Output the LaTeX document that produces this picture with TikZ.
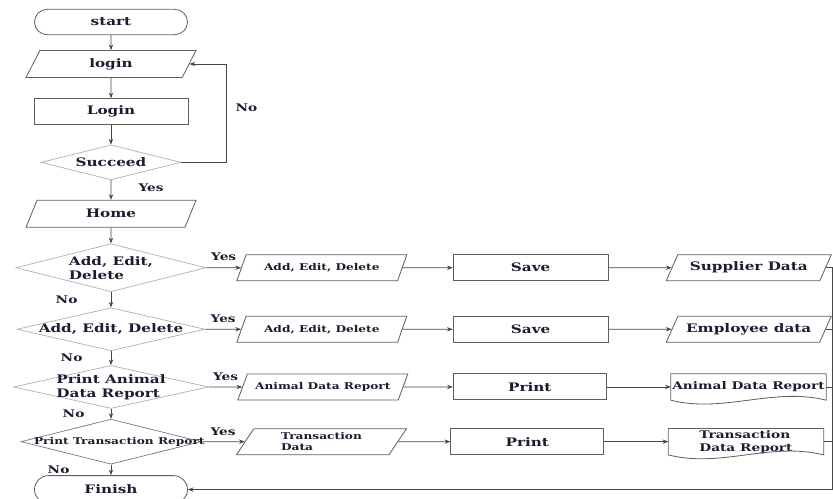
\documentclass[tikz,border=0pt]{standalone}
\usepackage{fontspec}
\setmainfont{DejaVu Serif}[FakeStretch=1.3]
\usepackage{xcolor}
\usepackage{tikz}
\usetikzlibrary{arrows.meta,positioning,shapes.geometric}

\definecolor{ink}{RGB}{28,28,48}
\definecolor{edge}{RGB}{95,95,95}
\definecolor{soft}{RGB}{175,175,175}
\definecolor{wire}{RGB}{70,70,70}

\begin{document}
\begin{tikzpicture}[>={Stealth[length=1.7mm,width=1.3mm]}, font=\bfseries,
    every node/.append style={text=ink},
    line/.style={draw=wire, line width=0.6pt},
    lab/.style={font=\bfseries\small},
    term/.style={rectangle, rounded corners=3.8mm, draw=edge, line width=0.7pt, minimum width=45.9mm, minimum height=7.6mm},
    io/.style={trapezium, trapezium left angle=45, trapezium right angle=135, trapezium stretches body, draw=edge, line width=0.7pt, minimum width=51mm, minimum height=8.1mm, inner sep=1pt},
    rowio/.style={io, trapezium left angle=50, trapezium right angle=130, minimum height=7.8mm},
    proc/.style={rectangle, draw=edge, line width=0.8pt, minimum width=46.2mm, minimum height=7.8mm},
    dec/.style={diamond, draw=soft, line width=0.6pt, inner sep=0pt},
    doc/.style={rectangle, minimum width=46.5mm, minimum height=7.8mm, inner sep=1pt, font=\bfseries\small}]
    \useasboundingbox (0,0) rectangle (249.9mm,-149.4mm);

    % main column
    \node[term] (start) at (33.3mm,-6.6mm) {start};
    \node[io] (login) [below=4.5mm of start] {login};
    \node[proc] (auth) [below=6.1mm of login] {Login};
    \node[dec, minimum width=42mm, minimum height=10.5mm, label=center:Succeed] (succ) [below=5.8mm of auth] {};
    \node[io] (home) [below=5.9mm of succ] {Home};
    \node[dec, minimum width=57mm, minimum height=14.4mm, label={[align=left]center:{Add, Edit,\\Delete}}] (d1) [below=4.7mm of home] {};
    \node[dec, minimum width=56.4mm, minimum height=12.9mm, label={center:{Add, Edit, Delete}}] (d2) [below=4.6mm of d1] {};
    \node[dec, minimum width=58.5mm, minimum height=12.9mm, label={[align=left]center:{Print Animal\\Data Report}}] (d3) [below=4.2mm of d2] {};
    \node[dec, draw=edge!85, minimum width=54mm, minimum height=13.5mm, label={[font=\bfseries\footnotesize, xshift=2.5mm]center:Print Transaction Report}] (d4) [below=3mm of d3] {};
    \node[term, minimum height=8.4mm, rounded corners=4.2mm] (fin) [below=3.2mm of d4] {Finish};

    % rows
    \node[rowio, font=\bfseries\footnotesize] (in1) [right=10.4mm of d1] {Add, Edit, Delete};
    \node[proc, minimum width=46.5mm] (save1) [right=15mm of in1] {Save};
    \node[rowio, minimum width=49.5mm] (out1) [right=18.9mm of save1] {Supplier Data};

    \node[rowio, font=\bfseries\footnotesize] (in2) [right=10.7mm of d2] {Add, Edit, Delete};
    \node[proc, minimum width=46.5mm] (save2) [right=15mm of in2] {Save};
    \node[rowio, minimum width=49.5mm] (out2) [right=18.9mm of save2] {Employee data};

    \node[rowio, font=\bfseries\footnotesize] (in3) [right=10mm of d3] {Animal Data Report};
    \node[proc, minimum width=45.9mm] (print3) [right=14.8mm of in3] {Print};
    \node[doc] (out3) [right=19.2mm of print3] {Animal Data Report};

    \node[rowio, font=\bfseries\footnotesize, align=left] (in4) [right=13mm of d4] {Transaction\\Data};
    \node[proc, minimum width=45.9mm] (print4) [right=15.6mm of in4] {Print};
    \node[doc, align=left] (out4) [right=19.2mm of print4] {Transaction\\Data Report};

    % document outlines
    \draw[line, draw=edge, line width=0.7pt] (out3.south west) -- (out3.north west) -- (out3.north east) -- (out3.south east) .. controls +(-16mm,4mm) and +(16mm,-4mm) .. (out3.south west);
    \draw[line, draw=edge, line width=0.7pt] (out4.south west) -- (out4.north west) -- (out4.north east) -- (out4.south east) .. controls +(-16mm,4mm) and +(16mm,-4mm) .. (out4.south west);

    % main flow
    \draw[line,->] (start) -- (login);
    \draw[line,->] (login) -- (auth);
    \draw[line,->] (auth) -- (succ);
    \draw[line,->] (succ) -- node[right=7mm, pos=.4, lab] {Yes} (home);
    \coordinate[right=13.5mm of succ.east] (back);
    \draw[line,->] (succ.east) -- (back) |- node[pos=.28, right=1.5mm, lab] {No} (login.east);
    \draw[line,->] (home) -- (d1);
    \draw[line,->] (d1) -- node[left=8.8mm, lab] {No} (d2);
    \draw[line,->] (d2) -- node[left=7.3mm, lab] {No} (d3);
    \draw[line,->] (d3) -- node[left=6.7mm, lab] {No} (d4);
    \draw[line,->] (d4) -- node[left=11.2mm, lab] {No} (fin);

    % yes branches
    \draw[line,->] (d1) -- node[above=0.8mm, lab] {Yes} (in1);
    \draw[line,->] (d2) -- node[above=0.6mm, lab] {Yes} (in2);
    \draw[line,->] (d3) -- node[above=0.6mm, lab] {Yes} (in3);
    \draw[line,->] (d4) -- node[above=0.6mm, lab] {Yes} (in4);
    \draw[line,->] (in1) -- (save1);
    \draw[line,->] (save1) -- (out1);
    \draw[line,->] (in2) -- (save2);
    \draw[line,->] (save2) -- (out2);
    \draw[line,->] (in3) -- (print3);
    \draw[line,->] (print3) -- (out3);
    \draw[line,->] (in4) -- (print4);
    \draw[line,->] (print4) -- (out4);

    % back to finish
    \coordinate[right=2mm of out1.east] (r1);
    \coordinate (rb) at (r1 |- fin.east);
    \draw[line] (out1.east) -- (r1);
    \draw[line] (out2.east) -- (out2.east -| r1);
    \draw[line] (out3.east) -- (out3.east -| r1);
    \draw[line] (out4.east) -- (out4.east -| r1);
    \draw[line,->] (r1) -- (rb) -- (fin.east);
  \end{tikzpicture}
\end{document}
